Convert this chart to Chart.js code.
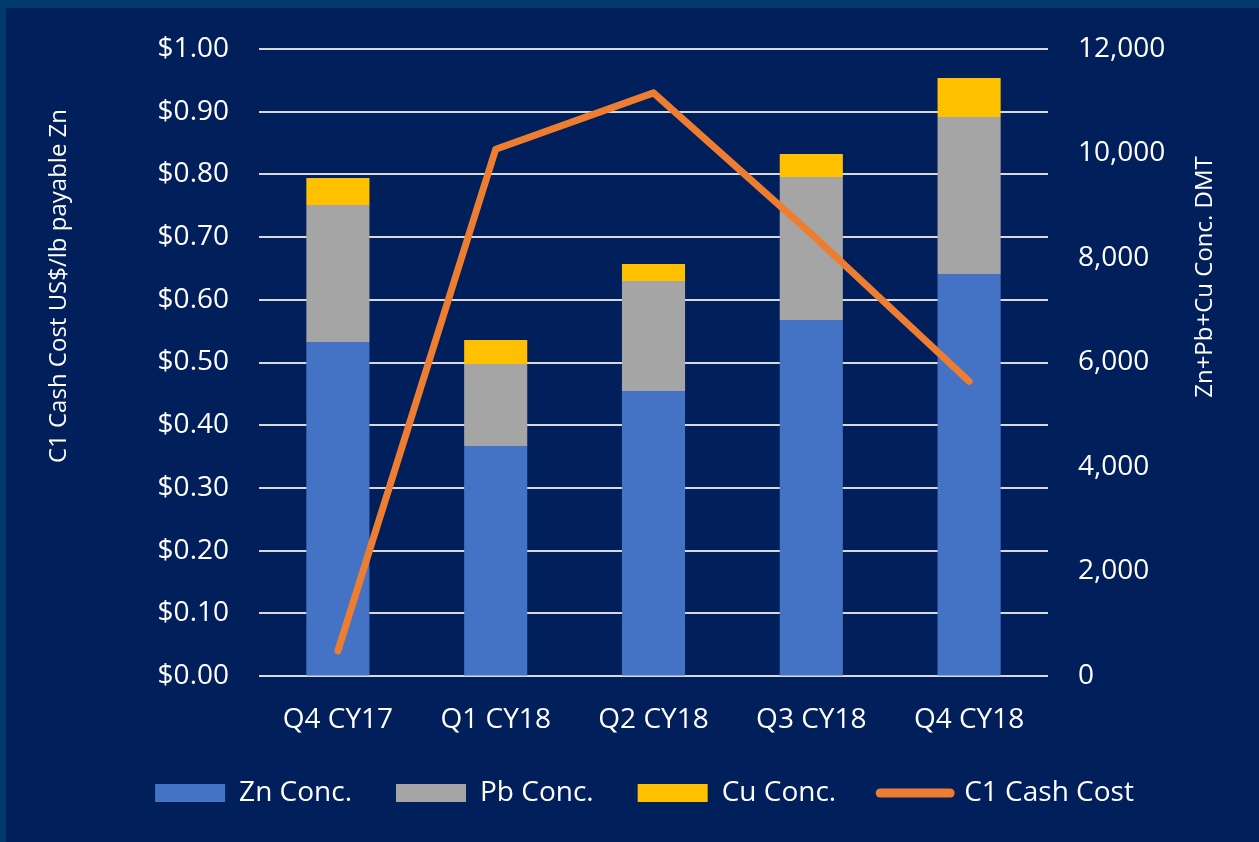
<!DOCTYPE html>
<html>
<head>
<meta charset="utf-8">
<script src="https://cdn.jsdelivr.net/npm/chart.js@4.4.1/dist/chart.umd.min.js"></script>
<style>
  html, body { margin: 0; padding: 0; background: #003a6b; }
  #wrap { position: absolute; left: 6px; top: 8px; width: 1253px; height: 834px; background: #001f5b; }
</style>
</head>
<body>
<div id="wrap"><canvas id="myChart"></canvas></div>
<script>
// data
const quarters = ['Q4 CY17', 'Q1 CY18', 'Q2 CY18', 'Q3 CY18', 'Q4 CY18'];
const znConc = [6390, 4400, 5455, 6815, 7695];
const pbConc = [2625, 1570, 2105, 2735, 3005];
const cuConc = [515, 460, 325, 440, 745];
const cashCost = [0.04, 0.84, 0.93, 0.705, 0.47];
const leftTitle = 'C1 Cash Cost US$/lb payable Zn';
const rightTitle = 'Zn+Pb+Cu Conc. DMT';

Chart.defaults.font.family = '"Open Sans"';
Chart.defaults.font.size = 28;
Chart.defaults.color = '#ffffff';

// axis titles, both read bottom to top
const axisTitles = {
    id: 'axisTitles',
    afterDraw(chart) {
        const ctx = chart.ctx;
        const area = chart.chartArea;
        ctx.save();
        ctx.fillStyle = '#ffffff';
        ctx.font = '24px "Open Sans"';
        ctx.textAlign = 'center';
        ctx.textBaseline = 'middle';
        ctx.translate(area.left - 200, area.top + 237);
        ctx.rotate(-Math.PI / 2);
        ctx.fillText(leftTitle, 0, 0);
        ctx.restore();

        ctx.save();
        ctx.fillStyle = '#ffffff';
        ctx.font = '24px "Open Sans"';
        ctx.textAlign = 'center';
        ctx.textBaseline = 'middle';
        ctx.translate(area.right + 157, area.top + 228);
        ctx.rotate(-Math.PI / 2);
        ctx.fillText(rightTitle, 0, 0);
        ctx.restore();
    }
};

// keep the legend box short so the plot keeps its height,
// and nudge it a bit to the right like the original
const legendTweak = {
    id: 'legendTweak',
    afterInit(chart) {
        const legend = chart.legend;
        const fit = legend.fit;
        legend.fit = function () {
            fit.call(this);
            this.height = 90;
        };
        const draw = legend.draw;
        legend.draw = function (area) {
            this.ctx.save();
            this.ctx.translate(12, -1);
            draw.call(this, area);
            this.ctx.restore();
        };
    }
};

// y axes: no extra room above/below for the end labels
const noEndPadding = scale => {
    scale.paddingTop = 0;
    scale.paddingBottom = 0;
};

const data = {
    labels: quarters,
    datasets: [{
        label: 'Zn Conc.',
        data: znConc,
        backgroundColor: '#4472c4',
        yAxisID: 'y1',
        stack: 'conc',
        barPercentage: 0.4,
        categoryPercentage: 1.0
    },
    {
        label: 'Pb Conc.',
        data: pbConc,
        backgroundColor: '#a5a5a5',
        yAxisID: 'y1',
        stack: 'conc',
        barPercentage: 0.4,
        categoryPercentage: 1.0
    },
    {
        label: 'Cu Conc.',
        data: cuConc,
        backgroundColor: '#ffc000',
        yAxisID: 'y1',
        stack: 'conc',
        barPercentage: 0.4,
        categoryPercentage: 1.0
    },
    {
        type: 'line',
        label: 'C1 Cash Cost',
        data: cashCost,
        borderColor: '#ed7d31',
        backgroundColor: '#ed7d31',
        borderWidth: 7,
        borderCapStyle: 'round',
        borderJoinStyle: 'round',
        pointRadius: 0,
        pointStyle: 'line',
        tension: 0,
        yAxisID: 'y',
        order: -1
    }]
};

const config = {
    type: 'bar',
    data: data,
    plugins: [axisTitles, legendTweak],
    options: {
        responsive: true,
        maintainAspectRatio: false,
        animation: false,
        layout: { padding: { top: 41, bottom: 16, left: 0, right: 0 } },
        plugins: {
            tooltip: { enabled: false },
            legend: {
                position: 'bottom',
                labels: {
                    usePointStyle: true,
                    pointStyleWidth: 70,
                    boxHeight: 18,
                    padding: 44,
                    color: '#ffffff',
                    font: { size: 28 },
                    generateLabels(chart) {
                        const items = Chart.defaults.plugins.legend.labels.generateLabels(chart);
                        items.forEach(item => {
                            if (item.text === 'C1 Cash Cost') {
                                item.pointStyle = 'line';
                                item.lineCap = 'round';
                                item.lineWidth = 9;
                                item.strokeStyle = '#ed7d31';
                            } else {
                                item.pointStyle = 'rect';
                                item.lineWidth = 0;
                            }
                        });
                        return items.sort((a, b) => a.datasetIndex - b.datasetIndex);
                    }
                }
            }
        },
        scales: {
            x: {
                stacked: true,
                grid: { display: false, drawTicks: false },
                border: { display: false },
                ticks: { padding: 27, color: '#ffffff' },
                afterFit(scale) { scale.height = 60; }
            },
            y: {
                position: 'left',
                min: 0,
                max: 1,
                grid: { color: '#d9d9d9', lineWidth: 2, drawTicks: false },
                border: { display: false },
                ticks: {
                    stepSize: 0.1,
                    padding: 30,
                    color: '#ffffff',
                    callback: v => '$' + v.toFixed(2)
                },
                afterFit(scale) {
                    scale.width = 253;
                    noEndPadding(scale);
                }
            },
            y1: {
                position: 'right',
                stacked: true,
                min: 0,
                max: 12000,
                grid: { drawOnChartArea: false, drawTicks: false },
                border: { display: false },
                ticks: {
                    stepSize: 2000,
                    padding: 30,
                    color: '#ffffff',
                    callback: v => v.toLocaleString('en-US')
                },
                afterFit(scale) {
                    scale.width = 211;
                    noEndPadding(scale);
                }
            }
        }
    }
};

const myChart = new Chart(
    document.getElementById('myChart'),
    config
);
</script>
</body>
</html>
